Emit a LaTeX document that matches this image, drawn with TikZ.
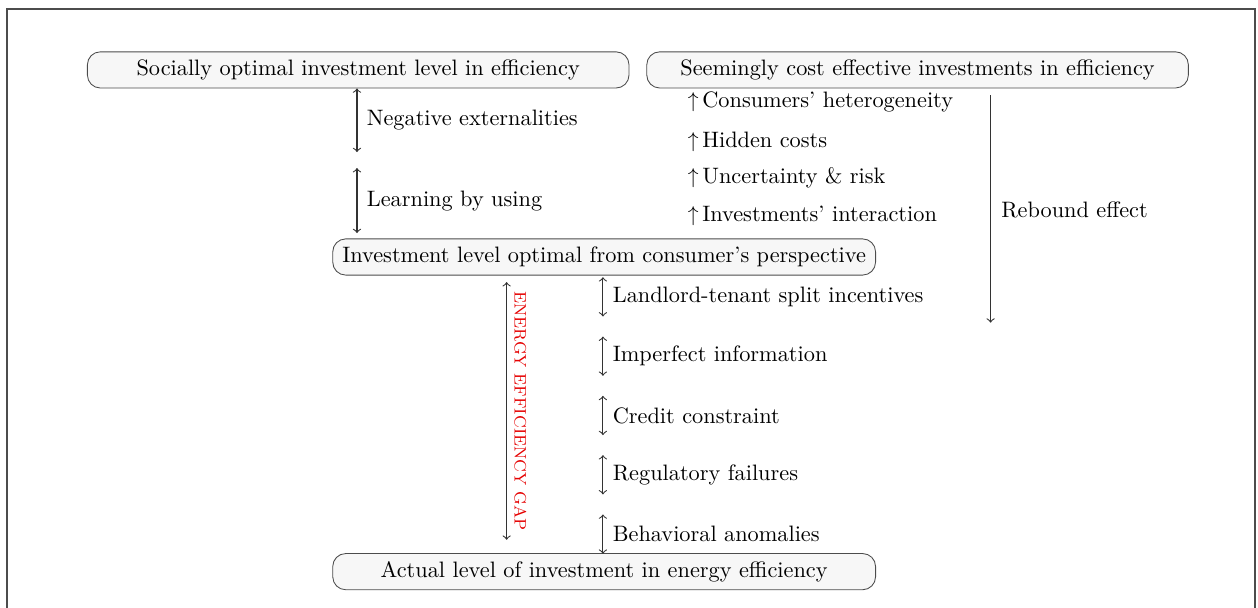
\documentclass[tikz,border=0pt]{standalone}
\usetikzlibrary{positioning}

\tikzset{
  level/.style={draw=black!70, fill=black!3, rounded corners=6pt, minimum height=0.59cm, inner sep=2pt},
  gaparrow/.style={<->, draw=black!80, line width=0.5pt},
}

\begin{document}
\begin{tikzpicture}[font=\fontsize{10.35}{12.4}\selectfont]
\useasboundingbox (0,0) rectangle (20.51,-9.91);

% frame
\draw[black!70, line width=0.8pt] (0.11,-9.95) |- (20.46,-0.15) -- (20.46,-9.95);

% levels
\node[level, minimum width=8.83cm] (social) at (5.84,-1.14) {Socially optimal investment level in efficiency};
\node[level, minimum width=8.83cm] (seeming) at (14.96,-1.14) {Seemingly cost effective investments in efficiency};
\node[level, minimum width=8.85cm] (consumer) at (9.85,-4.19) {Investment level optimal from consumer's perspective};
\node[level, minimum width=8.85cm] (actual) at (9.85,-9.32) {Actual level of investment in energy efficiency};

% social vs consumer
\coordinate (ne) at (5.82,-2.48);
\coordinate (lu) at (5.82,-2.74);
\coordinate (lue) at (5.82,-3.80);
\draw[gaparrow] (social.south -| ne) -- (ne) node [midway, right, xshift=1pt] (negext) {Negative externalities};
\draw[gaparrow] (lu) -- (lue) node [midway, right, xshift=1pt] (learn) {Learning by using};

% seemingly cost effective
\node[right] (hetero) at (11.09,-1.66) {$\uparrow$\,Consumers' heterogeneity};
\node[right] (hidden) at (11.09,-2.31) {$\uparrow$\,Hidden costs};
\node[right] (risk) at (11.09,-2.90) {$\uparrow$\,Uncertainty \& risk};
\node[right] (interact) at (11.09,-3.52) {$\uparrow$\,Investments' interaction};

\coordinate (rbtop) at (16.15,-1.55);
\coordinate (rbend) at (16.15,-5.26);
\draw[->, draw=black!80, line width=0.5pt] (rbtop) -- (rbend);
\node[right] (rebound) at (16.2,-3.42) {Rebound effect};

% energy efficiency gap
\coordinate (gaptop) at (8.26,-4.60);
\coordinate (gapend) at (8.26,-8.80);
\draw[gaparrow] (gaptop) -- (gapend) node [midway, right, rotate=-90, anchor=south, red!90!black, font=\fontsize{7.7}{9}\selectfont] (gap) {ENERGY EFFICIENCY GAP};

% barriers
\foreach \barrier [count=\i] in {Landlord-tenant split incentives, Imperfect information, Credit constraint, Regulatory failures, Behavioral anomalies}
{
  \coordinate (b\i) at (9.83,{-4.52-(\i-1)*0.967});
  \draw[gaparrow] (b\i) -- ++(0,-0.64) node [midway, right, xshift=1pt] (barrier\i) {\barrier};
}

\end{tikzpicture}
\end{document}
